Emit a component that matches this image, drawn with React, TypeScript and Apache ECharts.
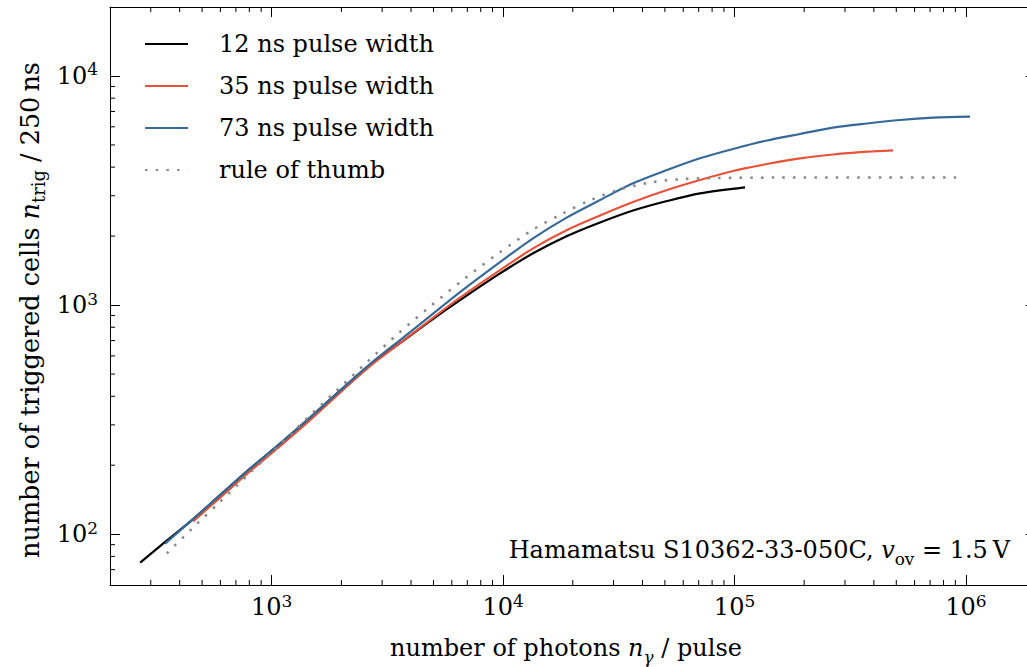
import React, { useEffect, useRef } from 'react';
import * as echarts from 'echarts';

const FONT = '"DejaVu Serif", serif';

const X_MIN = 200;
const X_MAX = 2e6;
const Y_MIN = 60;
const Y_MAX = 2e4;

const seriesNames = ['12 ns pulse width', '35 ns pulse width', '73 ns pulse width', 'rule of thumb'];

const blackX = [270, 339, 444, 598, 806, 1086, 1464, 1974, 2660, 3585, 4832, 6512, 9697, 13470, 18890, 26230, 36420, 51090, 70940, 111000];
const blackY = [75.2, 90.9, 113.4, 148, 193.2, 248.5, 322.6, 423.2, 549.7, 682, 851.6, 1051, 1375, 1682, 2001, 2293, 2586, 2845, 3074, 3266];

const redX = [457, 598, 806, 1086, 1464, 1974, 2660, 3585, 4832, 6512, 9697, 13470, 18890, 26230, 36420, 51090, 70940, 98510, 138200, 191900, 266500, 373900, 484200];
const redY = [113.6, 144.3, 188.4, 242.3, 314.6, 414.8, 541.5, 682, 860.2, 1078, 1421, 1768, 2126, 2460, 2817, 3178, 3515, 3848, 4128, 4371, 4542, 4671, 4738];

const blueX = [346, 444, 598, 806, 1086, 1464, 1974, 2660, 3585, 4832, 6512, 9697, 13470, 18890, 26230, 36420, 51090, 70940, 98510, 138200, 191900, 266500, 373900, 519000, 720900, 1041600];
const blueY = [91, 113.4, 148, 193.2, 248.5, 322.6, 423.2, 552.5, 703.6, 895.3, 1140, 1541, 1956, 2415, 2874, 3399, 3886, 4371, 4800, 5228, 5581, 5946, 6203, 6425, 6575, 6642];

const thumbX = [352, 474, 598, 812, 1026, 1383, 1891, 2574, 3525, 4879, 6777, 9535, 13505, 17920, 23750, 32010, 43870, 60060, 83770, 150000, 959000];
const thumbY = [82.4, 110.6, 138.4, 186.5, 232.8, 312.5, 420, 562, 752, 993, 1299, 1682, 2141, 2497, 2866, 3201, 3434, 3550, 3585, 3600, 3600];

const pairs = (xs: number[], ys: number[]) => xs.map((x, i) => [x, ys[i]]);

const minorTicks = (lo: number, hi: number) => {
  const out: number[] = [];
  for (let e = 0; e <= 7; e++) {
    for (let k = 2; k <= 9; k++) {
      const v = k * Math.pow(10, e);
      if (v > lo * 1.0001 && v < hi * 0.9999) out.push(v);
    }
  }
  return out;
};
const xMinor = minorTicks(X_MIN, X_MAX);
const yMinor = minorTicks(Y_MIN, Y_MAX);

const powLabel = (v: number) => {
  const l = Math.log10(v);
  const e = Math.round(l);
  return Math.abs(l - e) < 1e-6 ? `{b|10}{s|${e}}` : '';
};

const labelRich = {
  b: { fontFamily: FONT, fontSize: 24, lineHeight: 30, color: '#000' },
  s: { fontFamily: FONT, fontSize: 17, lineHeight: 18, color: '#000', verticalAlign: 'top' },
};

const makeRich = (size: number) => ({
  r: { fontFamily: FONT, fontSize: size, lineHeight: 34, color: '#000' },
  i: { fontFamily: FONT, fontSize: size, lineHeight: 34, color: '#000', fontStyle: 'italic' },
  sub: { fontFamily: FONT, fontSize: size * 0.7, lineHeight: 17, color: '#000', verticalAlign: 'bottom' },
  subi: { fontFamily: FONT, fontSize: size * 0.7, lineHeight: 17, color: '#000', verticalAlign: 'bottom', fontStyle: 'italic' },
});

const axisLine = { show: true, lineStyle: { color: '#000', width: 1 } };
const axisTick = { show: true, inside: true, length: 10, lineStyle: { color: '#000', width: 1 } };
const LW = 2.2;

export default function App() {
  const ref = useRef<HTMLDivElement>(null);
  useEffect(() => {
    const chart = echarts.init(ref.current!, null, { renderer: 'svg' });
    const lineCommon = { type: 'line', symbol: 'none', smooth: 0.3 };
    const option: any = {
      animation: false,
      backgroundColor: '#fff',
      grid: { left: 110, top: 7, width: 925.6, height: 578, containLabel: false, outerBoundsMode: 'none' },
      xAxis: [
        {
          type: 'log', min: X_MIN, max: X_MAX, logBase: 10, position: 'bottom',
          axisLine, axisTick,
          axisLabel: { formatter: powLabel, rich: labelRich, margin: 7, showMinLabel: false, showMaxLabel: false },
          splitLine: { show: false }, minorTick: { show: false },
        },
        {
          type: 'log', min: X_MIN, max: X_MAX, logBase: 10, position: 'top',
          axisLine, axisTick, axisLabel: { show: false }, splitLine: { show: false },
        },
      ],
      yAxis: [
        {
          type: 'log', min: Y_MIN, max: Y_MAX, logBase: 10, position: 'left',
          axisLine, axisTick,
          axisLabel: { formatter: powLabel, rich: labelRich, margin: 12, showMinLabel: false, showMaxLabel: false },
          splitLine: { show: false }, minorTick: { show: false },
        },
        {
          type: 'log', min: Y_MIN, max: Y_MAX, logBase: 10, position: 'right',
          axisLine, axisTick, axisLabel: { show: false }, splitLine: { show: false },
        },
      ],
      legend: {
        orient: 'vertical', left: 144, top: 29, padding: 0,
        itemWidth: 43, itemHeight: 2, itemGap: 12,
        itemStyle: { opacity: 0 },
        textStyle: { fontFamily: FONT, fontSize: 24, lineHeight: 30, color: '#000', padding: [0, 0, 0, 26] },
        data: seriesNames,
        selectedMode: false,
      },
      series: [
        {
          ...lineCommon, name: seriesNames[0], data: pairs(blackX, blackY),
          lineStyle: { color: '#000000', width: LW }, itemStyle: { color: '#000000' },
        },
        {
          ...lineCommon, name: seriesNames[1], data: pairs(redX, redY),
          lineStyle: { color: '#E4533A', width: LW }, itemStyle: { color: '#E4533A' },
        },
        {
          ...lineCommon, name: seriesNames[2], data: pairs(blueX, blueY),
          lineStyle: { color: '#376996', width: LW }, itemStyle: { color: '#376996' },
        },
        {
          ...lineCommon, name: seriesNames[3], data: pairs(thumbX, thumbY),
          lineStyle: { color: '#888888', width: 2.5, type: [2.5, 8.2], cap: 'butt' }, itemStyle: { color: '#888888' },
        },
        {
          type: 'custom', silent: true, data: xMinor.map((v) => [v, 1000]),
          renderItem: (params: any, api: any) => {
            const p = api.coord([api.value(0), api.value(1)]);
            const cs = params.coordSys;
            const yb = cs.y + cs.height;
            return {
              type: 'group',
              children: [
                { type: 'line', shape: { x1: p[0], y1: yb, x2: p[0], y2: yb - 5 }, style: { stroke: '#000', lineWidth: 1 } },
                { type: 'line', shape: { x1: p[0], y1: cs.y, x2: p[0], y2: cs.y + 5 }, style: { stroke: '#000', lineWidth: 1 } },
              ],
            };
          },
        },
        {
          type: 'custom', silent: true, data: yMinor.map((v) => [1000, v]),
          renderItem: (params: any, api: any) => {
            const p = api.coord([api.value(0), api.value(1)]);
            const cs = params.coordSys;
            const xr = cs.x + cs.width;
            return {
              type: 'group',
              children: [
                { type: 'line', shape: { x1: cs.x, y1: p[1], x2: cs.x + 5, y2: p[1] }, style: { stroke: '#000', lineWidth: 1 } },
                { type: 'line', shape: { x1: xr, y1: p[1], x2: xr - 5, y2: p[1] }, style: { stroke: '#000', lineWidth: 1 } },
              ],
            };
          },
        },
      ],
      graphic: [
        {
          type: 'text', x: 566, y: 648,
          style: {
            text: '{r|number of photons }{i|n}{subi|γ}{r| / pulse}',
            rich: makeRich(24), align: 'center', verticalAlign: 'middle',
          },
        },
        {
          type: 'text', x: 30, y: 310, rotation: Math.PI / 2,
          style: {
            text: '{r|number of triggered cells }{i|n}{sub|trig}{r| / 250\u2009ns}',
            rich: makeRich(25.5), align: 'center', verticalAlign: 'middle',
          },
        },
        {
          type: 'text', x: 1010, y: 550,
          style: {
            text: '{r|Hamamatsu S10362-33-050C, }{i|v}{sub|ov}{r| = 1.5\u2009V}',
            rich: makeRich(24), align: 'right', verticalAlign: 'middle',
          },
        },
      ],
    };
    chart.setOption(option);
    return () => chart.dispose();
  }, []);
  return (
    <div
      ref={ref}
      style={{ position: 'fixed', left: 0, top: 0, width: 1027, height: 667, background: '#fff' }}
    />
  );
}
